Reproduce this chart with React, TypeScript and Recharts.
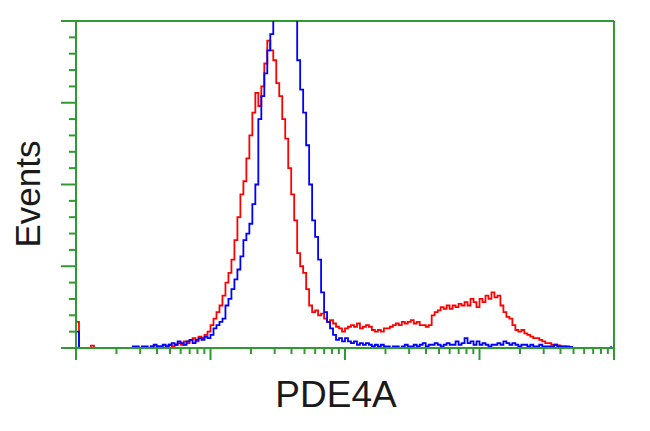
import { LineChart, Line, XAxis, YAxis, ReferenceLine } from 'recharts';

// 180 log-scaled channels spanning four decades (45 channels per decade)
const redCounts = [
  8, 0, 0, 0, 0, 0.7, 0, 0, 0, 0,
  0, 0, 0, 0, 0, 0, 0, 0, 0, 0,
  0, 0, 0, 0, 0, 0.5, 0, 0.5, 0.5, 0,
  0.5, 1, 0.5, 1, 1.5, 1, 2, 1.5, 2.5, 3,
  2, 3.5, 3, 4, 5, 7, 9, 11, 13, 16,
  20, 23, 27, 33, 40, 47, 51, 58, 65, 72,
  78, 74, 80, 87, 94, 91, 88, 81, 77, 70,
  64, 55, 47, 39, 29, 25, 23, 18, 13, 11,
  11.5, 10, 10.5, 9, 8, 8.5, 7.5, 6.5, 6, 5,
  6, 6.5, 7, 6.5, 7.5, 6, 6.5, 7, 6.5, 5.5,
  5, 5.5, 5, 6, 6, 6.5, 7, 7.5, 7, 8,
  7.5, 8, 8.5, 7.5, 8, 7, 7, 6.5, 7, 10,
  11, 11.5, 12.5, 12, 13, 12, 13, 12.5, 13.5, 13,
  14, 13, 15, 14, 12.5, 15, 14, 16, 15, 17,
  15.5, 16, 13, 11, 9.5, 9, 7, 5.5, 5, 5.5,
  4.5, 4, 3.5, 3, 3, 2.5, 2, 1.5, 1.5, 1,
  1, 0.8, 0.5, 0.5, 0.3, 0, 0, 0, 0, 0,
  0, 0, 0, 0, 0, 0, 0, 0, 0, 0,
];

const blueCounts = [
  5, 0, 0, 0, 0, 0, 0, 0, 0, 0,
  0, 0, 0, 0, 0, 0, 0, 0, 0, 0.5,
  0.5, 0, 0.5, 0.5, 0, 0.5, 1, 0.5, 0.5, 1,
  0.5, 1, 1.5, 1, 2, 1.5, 1, 2, 2.5, 1.5,
  2.5, 3, 2.5, 3.5, 3, 4, 6, 7, 8, 9,
  13, 15, 18, 21, 24, 28, 33, 35, 38, 44,
  50, 70, 77, 84, 91, 96, 104, 112, 120, 126,
  128, 124, 116, 106, 88, 79, 72, 62, 50, 39,
  34, 27, 17, 11, 8, 6, 4, 2.5, 3, 2,
  3, 2, 1.5, 2, 1, 1.5, 1, 1.5, 1, 0.5,
  1, 0.5, 1, 0.5, 0.5, 0, 0.5, 0.5, 0, 0.5,
  1, 0.5, 0.5, 1, 0.5, 1, 1.5, 0.5, 1, 1,
  1.5, 1, 0.5, 1, 1.5, 1, 1, 2, 1, 1.5,
  3, 1.5, 2, 1, 2, 1, 1.5, 1, 0.5, 1,
  1, 1.5, 1, 2, 1.5, 1, 1.5, 1, 0.5, 1,
  1, 0.5, 1, 0.5, 0.5, 1, 0.5, 0.5, 0.5, 0.5,
  1, 0.5, 0.5, 0.5, 0.5, 0.3, 0, 0, 0, 0,
  0, 0, 0, 0, 0, 0, 0, 0, 0, 0.5,
];

const decadeTicks = [0, 45, 90, 135, 180];
const yTicks = [0, 5, 10, 15, 20, 25, 30, 35, 40, 45, 50, 55, 60, 65, 70, 75, 80, 85, 90, 95, 100];
const yMajorTicks = [0, 25, 50, 75, 100];

const xAxisLabel = 'PDE4A';
const yAxisLabel = 'Events';

const GREEN = '#2f9a2f';

// log minor ticks inside each decade
const xTicks: number[] = [];
decadeTicks.forEach((d, i) => {
  xTicks.push(d);
  if (i < decadeTicks.length - 1) {
    for (let k = 2; k <= 9; k++) xTicks.push(d + 45 * Math.log10(k));
  }
});

const data = redCounts.map((r, i) => ({ ch: i, red: r, blue: blueCounts[i] }));

const XTick = (props: any) => {
  const { x, y, payload } = props;
  const major = decadeTicks.includes(payload.value);
  return <line x1={x} x2={x} y1={y} y2={y + (major ? 12 : 6)} stroke={GREEN} strokeWidth={2} />;
};

const YTick = (props: any) => {
  const { x, y, payload } = props;
  const major = yMajorTicks.includes(payload.value);
  return <line x1={x - (major ? 15 : 7)} x2={x} y1={y} y2={y} stroke={GREEN} strokeWidth={2} />;
};

export default function App() {
  return (
    <div style={{ position: 'relative', width: 642, height: 420 }}>
      <LineChart
        width={642}
        height={420}
        data={data}
        margin={{ top: 13, right: 36, left: 8, bottom: 50 }}
      >
        <XAxis
          dataKey="ch"
          type="number"
          domain={[0, 180]}
          ticks={xTicks}
          interval={0}
          height={30}
          tickSize={0}
          tickMargin={0}
          tick={<XTick />}
          axisLine={{ stroke: GREEN, strokeWidth: 2 }}
          tickLine={false}
        />
        <YAxis
          type="number"
          domain={[0, 100]}
          allowDataOverflow
          ticks={yTicks}
          interval={0}
          width={60}
          tickSize={0}
          tickMargin={0}
          tick={<YTick />}
          axisLine={{ stroke: GREEN, strokeWidth: 2 }}
          tickLine={false}
        />
        <ReferenceLine y={100} stroke={GREEN} strokeWidth={2} />
        <ReferenceLine x={180} stroke={GREEN} strokeWidth={2} />
        <Line
          type="stepAfter"
          dataKey="red"
          stroke="#ff0000"
          strokeWidth={1.8}
          dot={false}
          isAnimationActive={false}
        />
        <Line
          type="stepAfter"
          dataKey="blue"
          stroke="#0000ff"
          strokeWidth={1.8}
          dot={false}
          isAnimationActive={false}
        />
      </LineChart>
      <svg
        width={642}
        height={420}
        style={{ position: 'absolute', left: 0, top: 0, pointerEvents: 'none' }}
      >
        <text
          x={328}
          y={399}
          textAnchor="middle"
          fontSize={37}
          fontFamily="'Liberation Sans', Arial, sans-serif"
          fill="#1a1a1a"
        >
          {xAxisLabel}
        </text>
        <text
          transform="translate(32,186) rotate(-90)"
          textAnchor="middle"
          fontSize={35}
          fontFamily="'Liberation Sans', Arial, sans-serif"
          fill="#1a1a1a"
        >
          {yAxisLabel}
        </text>
      </svg>
    </div>
  );
}
